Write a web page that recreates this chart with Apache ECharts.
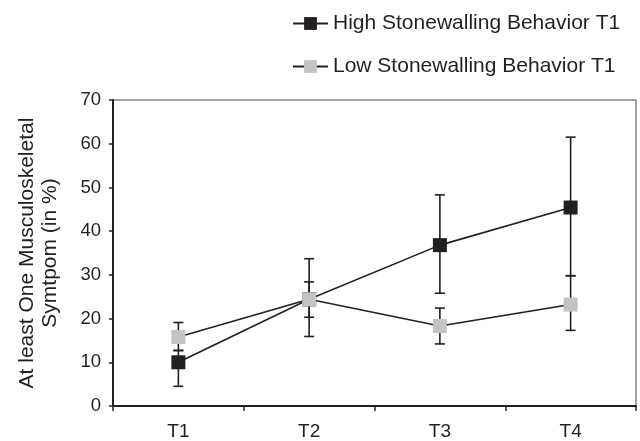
<!DOCTYPE html>
<html>
<head>
<meta charset="utf-8">
<script src="https://cdn.jsdelivr.net/npm/echarts@6/dist/echarts.min.js"></script>
<style>
html,body{margin:0;padding:0;background:#fff;}
#chart{width:640px;height:441px;}
</style>
</head>
<body>
<div id="chart"></div>
<script>
var categories = ['T1', 'T2', 'T3', 'T4'];
var yTicks = [0, 10, 20, 30, 40, 50, 60, 70];
var highName = 'High Stonewalling Behavior T1';
var lowName = 'Low Stonewalling Behavior T1';
var highMean = [10.0, 24.4, 36.8, 45.4];
var highLower = [4.5, 15.9, 25.8, 29.8];
var highUpper = [12.7, 33.7, 48.3, 61.5];
var lowMean = [15.8, 24.4, 18.3, 23.2];
var lowLower = [12.7, 20.3, 14.2, 17.3];
var lowUpper = [19.1, 28.4, 22.4, 29.8];

var FONT = 'Liberation Sans, Arial, Helvetica, sans-serif';
var INK = '#231f20';

function errData(lower, upper) {
  return categories.map(function (c, i) { return [i, lower[i], upper[i]]; });
}

function errorRender(params, api) {
  var x = api.value(0);
  var lo = api.coord([x, api.value(1)]);
  var hi = api.coord([x, api.value(2)]);
  var cap = 5;
  var style = { stroke: INK, lineWidth: 1.6 };
  return {
    type: 'group',
    children: [
      { type: 'line', shape: { x1: lo[0], y1: lo[1], x2: hi[0], y2: hi[1] }, style: style },
      { type: 'line', shape: { x1: lo[0] - cap, y1: lo[1], x2: lo[0] + cap, y2: lo[1] }, style: style },
      { type: 'line', shape: { x1: hi[0] - cap, y1: hi[1], x2: hi[0] + cap, y2: hi[1] }, style: style }
    ]
  };
}

var chart = echarts.init(document.getElementById('chart'), null, { renderer: 'canvas' });
chart.setOption({
  animation: false,
  backgroundColor: '#ffffff',
  textStyle: { fontFamily: FONT, color: INK },
  grid: {
    left: 113, right: 4, top: 100, bottom: 34,
    show: true, borderColor: '#444', borderWidth: 1, backgroundColor: 'transparent'
  },
  legend: {
    orient: 'vertical',
    left: 292,
    top: 13,
    padding: 0,
    itemWidth: 35,
    itemHeight: 16,
    itemGap: 22,
    data: [highName, lowName],
    textStyle: { fontFamily: FONT, fontSize: 21, color: INK }
  },
  xAxis: {
    type: 'category',
    data: categories,
    boundaryGap: true,
    axisLine: { lineStyle: { color: INK, width: 2 } },
    axisTick: { show: true, length: 5, lineStyle: { color: INK, width: 1.5 } },
    axisLabel: { fontFamily: FONT, fontSize: 19, color: INK, margin: 16 },
    splitLine: { show: false }
  },
  yAxis: {
    type: 'value',
    min: yTicks[0],
    max: yTicks[yTicks.length - 1],
    interval: 10,
    name: 'At least One Musculoskeletal\nSymtpom (in %)',
    nameLocation: 'middle',
    nameRotate: 90,
    nameGap: 51,
    nameTextStyle: { fontFamily: FONT, fontSize: 21, color: INK, lineHeight: 23 },
    axisLine: { show: true, lineStyle: { color: INK, width: 2 } },
    axisTick: { show: true, length: 4, lineStyle: { color: INK, width: 1.5 } },
    axisLabel: { fontFamily: FONT, fontSize: 18.5, color: INK, margin: 12 },
    splitLine: { show: false }
  },
  series: [
    {
      type: 'custom',
      name: 'err-high',
      renderItem: errorRender,
      data: errData(highLower, highUpper),
      encode: { x: 0, y: [1, 2] },
      z: 1,
      silent: true
    },
    {
      type: 'custom',
      name: 'err-low',
      renderItem: errorRender,
      data: errData(lowLower, lowUpper),
      encode: { x: 0, y: [1, 2] },
      z: 1,
      silent: true
    },
    {
      type: 'line',
      name: highName,
      data: highMean,
      symbol: 'rect',
      symbolSize: 14,
      lineStyle: { color: INK, width: 1.6 },
      itemStyle: { color: INK, borderWidth: 0 },
      z: 2
    },
    {
      type: 'line',
      name: lowName,
      data: lowMean,
      symbol: 'rect',
      symbolSize: 14,
      lineStyle: { color: INK, width: 1.6 },
      itemStyle: { color: '#c3c3c3', borderWidth: 0 },
      z: 3
    }
  ]
});
</script>
</body>
</html>
